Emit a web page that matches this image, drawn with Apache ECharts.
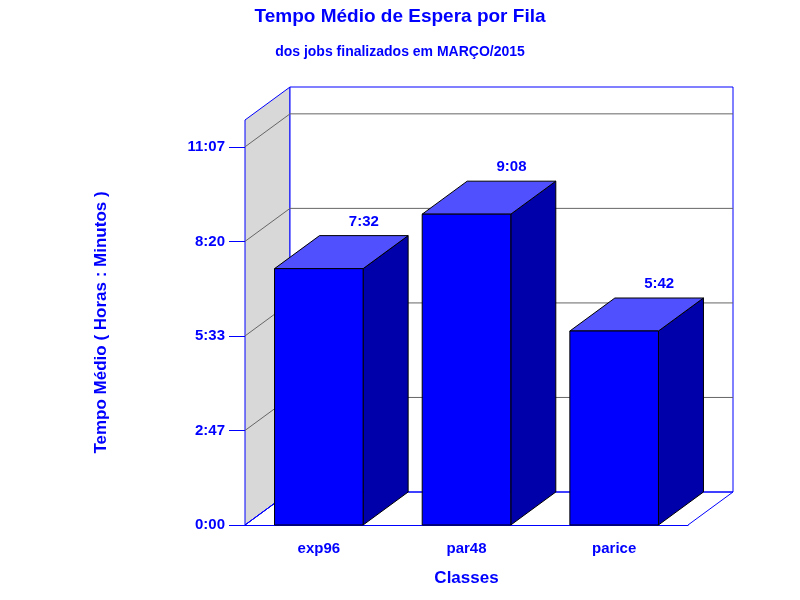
<!DOCTYPE html>
<html><head><meta charset="utf-8">
<script src="https://cdn.jsdelivr.net/npm/echarts@6/dist/echarts.min.js"></script>
<style>html,body{margin:0;padding:0;background:#fff}#c{width:800px;height:600px}</style>
</head><body><div id="c"></div>
<script>
var categories = ['exp96', 'par48', 'parice'];
var valuesMin = [452, 548, 342];
var labels = ['7:32', '9:08', '5:42'];
var tickValues = [0, 500/3, 1000/3, 500, 2000/3];

var DX = 45, DY = -33;
function fmt(v){var m=Math.round(v);var h=Math.floor(m/60),mm=m%60;return h+':'+(mm<10?'0':'')+mm;}
var chart = echarts.init(document.getElementById('c'));
var blue='#0000ff';
chart.setOption({
  animation:false,
  title:[{text:'Tempo Médio de Espera por Fila',left:'center',top:2,textStyle:{color:blue,fontSize:19,fontWeight:'bold',fontFamily:'Liberation Sans'}},
         {text:'dos jobs finalizados em MARÇO/2015',left:'center',top:40,textStyle:{color:blue,fontSize:14,fontWeight:'bold',fontFamily:'Liberation Sans'}}],
  grid:{left:245,right:112,top:120,bottom:75},
  xAxis:{type:'category',data:categories,name:'Classes',nameLocation:'middle',nameGap:45,
    nameTextStyle:{color:blue,fontSize:17,fontWeight:'bold',fontFamily:'Liberation Sans'},
    axisLine:{lineStyle:{color:blue}},axisTick:{show:false},
    axisLabel:{color:blue,fontSize:15,fontWeight:'bold',fontFamily:'Liberation Sans',margin:16}},
  yAxis:{type:'value',min:0,max:714,interval:500/3,name:'Tempo Médio ( Horas : Minutos )',nameLocation:'middle',nameGap:135,
    nameTextStyle:{color:blue,fontSize:17,fontWeight:'bold',fontFamily:'Liberation Sans'},
    axisLine:{show:true,lineStyle:{color:blue}},axisTick:{show:true,length:16,lineStyle:{color:blue}},
    splitLine:{show:false},
    axisLabel:{color:blue,fontSize:15,fontWeight:'bold',fontFamily:'Liberation Sans',margin:20,showMaxLabel:false,
      formatter:function(v){return fmt(v);}}},
  series:[
    {type:'custom',z:1,data:[[0,0]],silent:true,
     renderItem:function(params,api){
       var cs=params.coordSys;var L=cs.x,R=cs.x+cs.width,T=cs.y,B=cs.y+cs.height;
       var ls={stroke:blue,lineWidth:1,fill:null};
       var ch=[];
       ch.push({type:'polygon',shape:{points:[[L,B],[L+DX,B+DY],[L+DX,T+DY],[L,T]]},style:{fill:'#d8d8d8',stroke:blue}});
       ch.push({type:'polygon',shape:{points:[[L+DX,B+DY],[R+DX,B+DY],[R+DX,T+DY],[L+DX,T+DY]]},style:{fill:'#fff',stroke:blue}});
       ch.push({type:'polyline',shape:{points:[[L,B],[L+DX,B+DY]]},style:ls});
       ch.push({type:'polyline',shape:{points:[[R,B],[R+DX,B+DY]]},style:ls});
       tickValues.forEach(function(t){
         var y=api.coord([0,t])[1];
         ch.push({type:'polyline',shape:{points:[[L,y],[L+DX,y+DY],[R+DX,y+DY]]},style:{stroke:t===0?blue:'#666',lineWidth:1,fill:null}});
       });
       return {type:'group',children:ch};
     }},
    {type:'custom',z:2,data:valuesMin.map(function(v,i){return [i,v];}),
     renderItem:function(params,api){
       var i=api.value(0),v=api.value(1);
       var b=api.coord([i,0]),t=api.coord([i,v]);
       var w=api.size([1,0])[0]*0.6;var x0=b[0]-w/2,x1=b[0]+w/2,yb=b[1],yt=t[1];
       var st={stroke:'#000',lineWidth:1};
       return {type:'group',children:[
         {type:'polygon',shape:{points:[[x1,yb],[x1+DX,yb+DY],[x1+DX,yt+DY],[x1,yt]]},style:Object.assign({fill:'#0000aa'},st)},
         {type:'polygon',shape:{points:[[x0,yt],[x1,yt],[x1+DX,yt+DY],[x0+DX,yt+DY]]},style:Object.assign({fill:'#5050ff'},st)},
         {type:'rect',shape:{x:x0,y:yt,width:w,height:yb-yt},style:Object.assign({fill:'#0000ff'},st)},
         {type:'text',style:{text:labels[params.dataIndex],x:b[0]+DX,y:yt+DY-14,textAlign:'center',textVerticalAlign:'middle',
           fill:blue,font:'bold 15px Liberation Sans'}}
       ]};
     }}
  ]
});
</script></body></html>
